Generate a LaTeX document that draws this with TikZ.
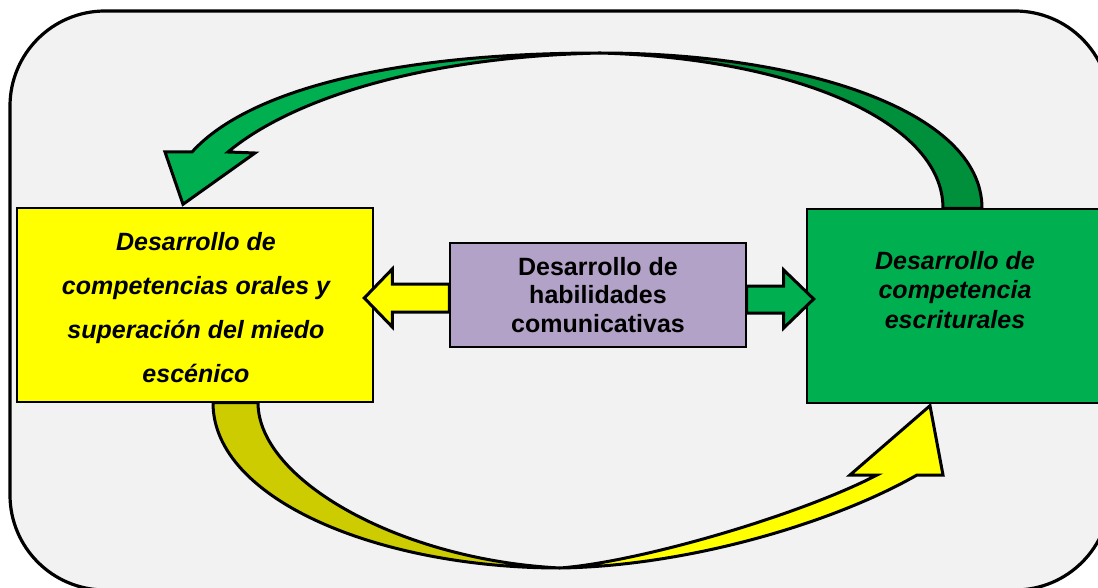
\documentclass[tikz,border=0pt]{standalone}
\usepackage{fontspec}
\setmainfont{Liberation Sans}
\usetikzlibrary{calc}

\definecolor{fondo}{HTML}{F2F2F2}
\definecolor{amarillo}{HTML}{FFFF00}
\definecolor{oliva}{HTML}{CCCC00}
\definecolor{verde}{HTML}{00B050}
\definecolor{verdeosc}{HTML}{008F3A}
\definecolor{lila}{HTML}{B3A2C7}

\tikzset{
  caja/.style={draw=black, line width=1.4pt, rectangle, inner sep=0pt},
  texto/.style={font=\fontsize{25}{29.5}\selectfont\bfseries\itshape, align=center},
  flecha/.style={draw=black, line width=3pt, line join=miter},
}

\begin{document}
\begin{tikzpicture}[x=1pt,y=-1pt]
\useasboundingbox (0,0) rectangle (1098,588);
\clip (0,0) rectangle (1098,588);
\draw[line width=3.2pt, rounded corners=95pt, fill=fondo] (10,11) rectangle (1110,590);

\node[caja, fill=amarillo, minimum width=356, minimum height=194] (oral) at (195,305) {};
\node[texto, font=\fontsize{25}{44}\selectfont\bfseries\itshape] (oralT) at (196,308)
  {Desarrollo de\\competencias orales y\\superación del miedo\\escénico};
\node[caja, fill=lila, minimum width=296, minimum height=104, align=center,
  font=\fontsize{25}{28.5}\selectfont\bfseries] (hab) at (598,295)
  {Desarrollo de\\habilidades\\comunicativas};
\node[caja, fill=verde, minimum width=296, minimum height=194] (escr) at (955,306) {};
\node[texto] (escrT) at (955,290) {Desarrollo de\\competencia\\escriturales};

% flecha verde de arriba
\filldraw[flecha, fill=verdeosc] ($(escr.north)+(27,0)$) .. controls (982,110) and (800,53) .. (600,53)
  .. controls (790,58) and (943,120) .. ($(escr.north)+(-12,0)$) -- cycle;
\filldraw[flecha, fill=verde] (600,53) .. controls (400,53) and (250,88) .. (192,152) -- (165,152)
  -- ($(oral.north)+(-12,-3)$) -- (255,153) -- (228,152) .. controls (290,100) and (420,57) .. (600,53) -- cycle;

% flecha amarilla de abajo
\filldraw[flecha, fill=oliva] ($(oral.south)+(18,0)$) .. controls (213,500) and (380,568) .. (560,568)
  .. controls (400,560) and (258,480) .. ($(oral.south)+(63,0)$) -- cycle;
\filldraw[flecha, fill=amarillo] (560,568) .. controls (690,566) and (835,522) .. (917,475) -- (943,475)
  -- ($(escr.south)+(-25,2)$) -- (850,475) -- (877,475) .. controls (800,515) and (640,562) .. (560,568) -- cycle;

\filldraw[flecha, fill=amarillo] ($(hab.west)+(0,-11)$) -- ++(-57,0) -- ++(0,-15) -- ++(-28,29)
  -- ++(28,29) -- ++(0,-15) -- ($(hab.west)+(0,17)$) -- cycle;
\filldraw[flecha, fill=verde] ($(hab.east)+(0,-9)$) -- ++(37,0) -- ++(0,-16) -- ++(30,29)
  -- ++(-30,29) -- ++(0,-15) -- ($(hab.east)+(0,18)$) -- cycle;
\end{tikzpicture}
\end{document}
